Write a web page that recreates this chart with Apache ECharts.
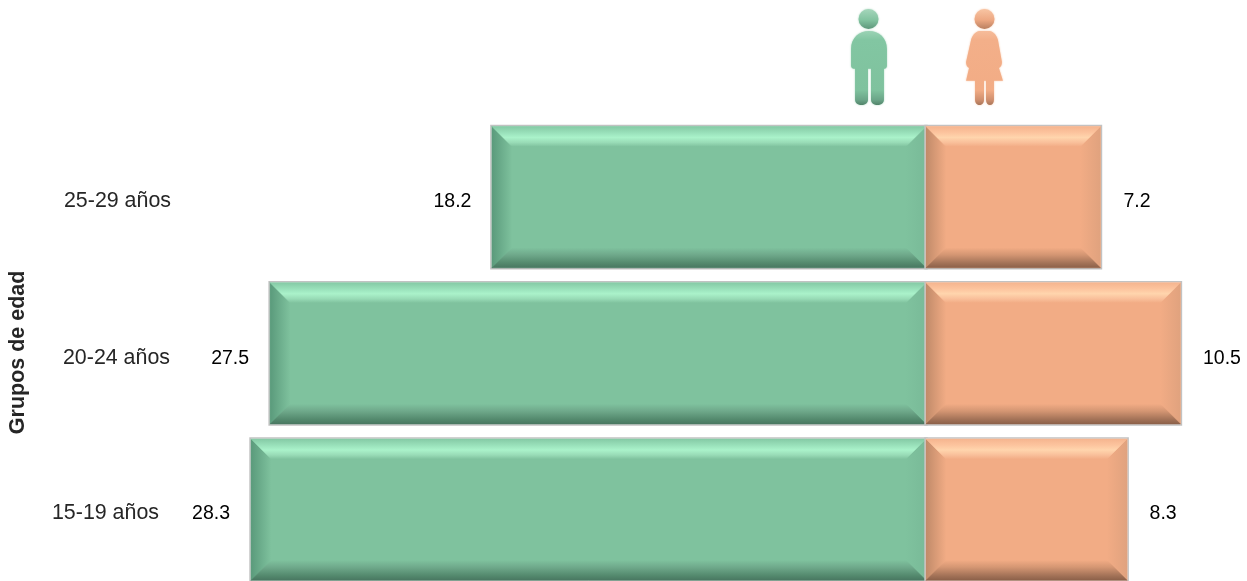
<!DOCTYPE html>
<html><head><meta charset="utf-8">
<style>html,body{margin:0;padding:0;background:#fff}#c{width:1247px;height:581px}</style>
<script src="https://cdn.jsdelivr.net/npm/echarts@6/dist/echarts.min.js"></script>
</head><body><div id="c"></div>
<script>
// Data (bottom row first)
const categories = ['15-19 años', '20-24 años', '25-29 años'];
const hombres = [28.3, 27.5, 18.2];
const mujeres = [8.3, 10.5, 7.2];
const axisTitle = 'Grupos de edad';

// Label nudges, in px from the bar end, per row
const menLabelGap = [40, 40, 39.5];
const womenLabelGap = [36, 41.5, 36.5];
const labelDy = [4, 5, 4];

const G = echarts.graphic;
const lin = (x, y, x2, y2, stops) => new G.LinearGradient(x, y, x2, y2,
  stops.map(s => ({offset: s[0], color: s[1]})));

const greenPal = {
  base: '#7fc29e',
  top: [[0, '#84c9a4'], [0.3, '#98dfb9'], [0.55, '#aaf2ca'], [0.8, '#98dbb6'], [1, '#7fc29e']],
  bottom: [[0, '#7fc29e'], [0.35, '#6fa98b'], [0.75, '#548a6e'], [1, '#487660']],
  left: ['#5a9a7b', '#7fc29e'], right: ['#7fc29e', '#79ba98']
};
const orangePal = {
  base: '#f2ac85',
  top: [[0, '#f5b48e'], [0.3, '#fcc39d'], [0.55, '#ffd5ad'], [0.8, '#f9bf9a'], [1, '#f2ac85']],
  bottom: [[0, '#f2ac85'], [0.35, '#d49673'], [0.75, '#a47358'], [1, '#8a5f48']],
  left: ['#c08a69', '#f2ac85'], right: ['#f2ac85', '#e0a27e']
};

function bevelBar(pal, values, gaps, sign) {
  return function (params, api) {
    const i = api.value(1);
    const p0 = api.coord([0, i]);
    const p1 = api.coord([api.value(0), i]);
    const h = api.size([0, 1])[1] * 0.905;
    const xa = Math.min(p0[0], p1[0]), xb = Math.max(p0[0], p1[0]);
    const y0 = p0[1] - h / 2, y1 = p0[1] + h / 2;
    const d = 20;
    const poly = (pts, fill) => ({type: 'polygon', shape: {points: pts}, style: {fill: fill, stroke: fill, lineWidth: 0.5}});
    const children = [
      {type: 'rect', shape: {x: xa - 1, y: y0 - 1, width: xb - xa + 2, height: y1 - y0 + 2},
       style: {fill: '#fff', stroke: '#c2c2c2', lineWidth: 1.5}},
      {type: 'rect', shape: {x: xa, y: y0, width: xb - xa, height: y1 - y0}, style: {fill: pal.base}},
      poly([[xa, y0], [xa + d, y0 + d], [xa + d, y1 - d], [xa, y1]], lin(0, 0, 1, 0, [[0, pal.left[0]], [1, pal.left[1]]])),
      poly([[xb, y0], [xb - d, y0 + d], [xb - d, y1 - d], [xb, y1]], lin(0, 0, 1, 0, [[0, pal.right[0]], [1, pal.right[1]]])),
      poly([[xa, y0], [xb, y0], [xb - d, y0 + d], [xa + d, y0 + d]], lin(0, 0, 0, 1, pal.top)),
      poly([[xa, y1], [xb, y1], [xb - d, y1 - d], [xa + d, y1 - d]], lin(0, 0, 0, 1, pal.bottom)),
      {type: 'text', style: {
        text: values[i].toFixed(1), x: p1[0] + sign * gaps[i], y: p0[1] + labelDy[i],
        align: 'center', verticalAlign: 'middle', fill: '#000',
        font: '19.5px "Liberation Sans", Arial, sans-serif'}}
    ];
    return {type: 'group', children};
  };
}

function iconItems() {
  const soft = (c) => ({shadowBlur: 2, shadowColor: c});
  return {type: 'group', children: [
    {type: 'circle', shape: {cx: 868.5, cy: 19, r: 10},
     style: Object.assign({fill: lin(0, 0, 0, 1, [[0, '#a5d6bb'], [0.55, '#82c3a0'], [1, '#5e977b']])}, soft('#a5d6bb'))},
    {type: 'path',
     shape: {pathData: 'M869 31 C879 31 887 38 887 49 L887 66 C887 68 885 69 884 69 L884 100 C884 107 871 107 871 100 L871 69 L868 69 L868 100 C868 107 855 107 855 100 L855 69 C853 69 851 68 851 66 L851 49 C851 38 859 31 869 31 Z',
             x: 851, y: 31, width: 36, height: 74},
     style: Object.assign({fill: lin(0, 0, 0, 1, [[0, '#9bd3b5'], [0.12, '#82c6a2'], [0.8, '#7fc29e'], [0.93, '#6ba588'], [1, '#52836a']])}, soft('#a5d6bb'))},
    {type: 'circle', shape: {cx: 984.5, cy: 19, r: 10},
     style: Object.assign({fill: lin(0, 0, 0, 1, [[0, '#f8c4a3'], [0.55, '#eda882'], [1, '#b97f60']])}, soft('#f8c4a3'))},
    {type: 'path',
     shape: {pathData: 'M979 31 L990 31 C994 32 997 36 998 40 L1002 62 C1002 65 1001 67 999 68 L1003 81 L994 81 L994 100 C994 107 986 107 986 100 L986 81 L984 81 L984 100 C984 107 975 107 975 100 L975 81 L966 81 L969 68 C967 67 966 65 966 62 L971 40 C972 36 975 32 979 31 Z',
             x: 966, y: 31, width: 37, height: 74},
     style: Object.assign({fill: lin(0, 0, 0, 1, [[0, '#f6bc9a'], [0.12, '#f3af89'], [0.8, '#f2ac85'], [0.93, '#d08f6e'], [1, '#a9765a']])}, soft('#f8c4a3'))}
  ]};
}

const catLabelStyle = {fontSize: 21.4, fontFamily: '"Liberation Sans", Arial, sans-serif', color: '#262626'};

const option = {
  animation: false,
  backgroundColor: '#fff',
  grid: [
    {left: 210.5, top: 119, width: 715.5, height: 468.75, outerBoundsMode: 'none'},
    {left: 926, top: 119, width: 315, height: 468.75, outerBoundsMode: 'none'}
  ],
  xAxis: [
    {gridIndex: 0, type: 'value', inverse: true, min: 0, max: 30, show: false},
    {gridIndex: 1, type: 'value', min: 0, max: 13, show: false}
  ],
  yAxis: [
    {gridIndex: 0, type: 'category', data: categories, position: 'left',
     axisLine: {show: false}, axisTick: {show: false},
     name: axisTitle, nameLocation: 'middle', nameRotate: 90, nameGap: 181,
     nameTextStyle: {fontSize: 21.5, fontWeight: 'bold', color: '#262626', padding: [0, 0, 0, 2], fontFamily: '"Liberation Sans", Arial, sans-serif'},
     axisLabel: {
       margin: 39.5, align: 'right',
       formatter: (v, i) => '{r' + i + '|' + v + '}',
       rich: {
         r0: Object.assign({padding: [7, 12, 0, 0]}, catLabelStyle),
         r1: Object.assign({padding: [9, 1, 0, 0]}, catLabelStyle),
         r2: Object.assign({padding: [7, 0, 0, 0]}, catLabelStyle)
       }
     }},
    {gridIndex: 1, type: 'category', data: categories, show: false}
  ],
  series: [
    {type: 'custom', name: 'Hombres', xAxisIndex: 0, yAxisIndex: 0,
     renderItem: bevelBar(greenPal, hombres, menLabelGap, -1),
     encode: {x: 0, y: 1}, data: hombres.map((v, i) => [v, i])},
    {type: 'custom', name: 'Mujeres', xAxisIndex: 1, yAxisIndex: 1,
     renderItem: bevelBar(orangePal, mujeres, womenLabelGap, 1),
     encode: {x: 0, y: 1}, data: mujeres.map((v, i) => [v, i])},
    {type: 'custom', name: 'Iconos', coordinateSystem: 'none', silent: true,
     renderItem: iconItems, data: [[0]]}
  ]
};
const chart = echarts.init(document.getElementById('c'), null, {renderer: 'canvas'});
chart.setOption(option);
</script>
</body></html>
